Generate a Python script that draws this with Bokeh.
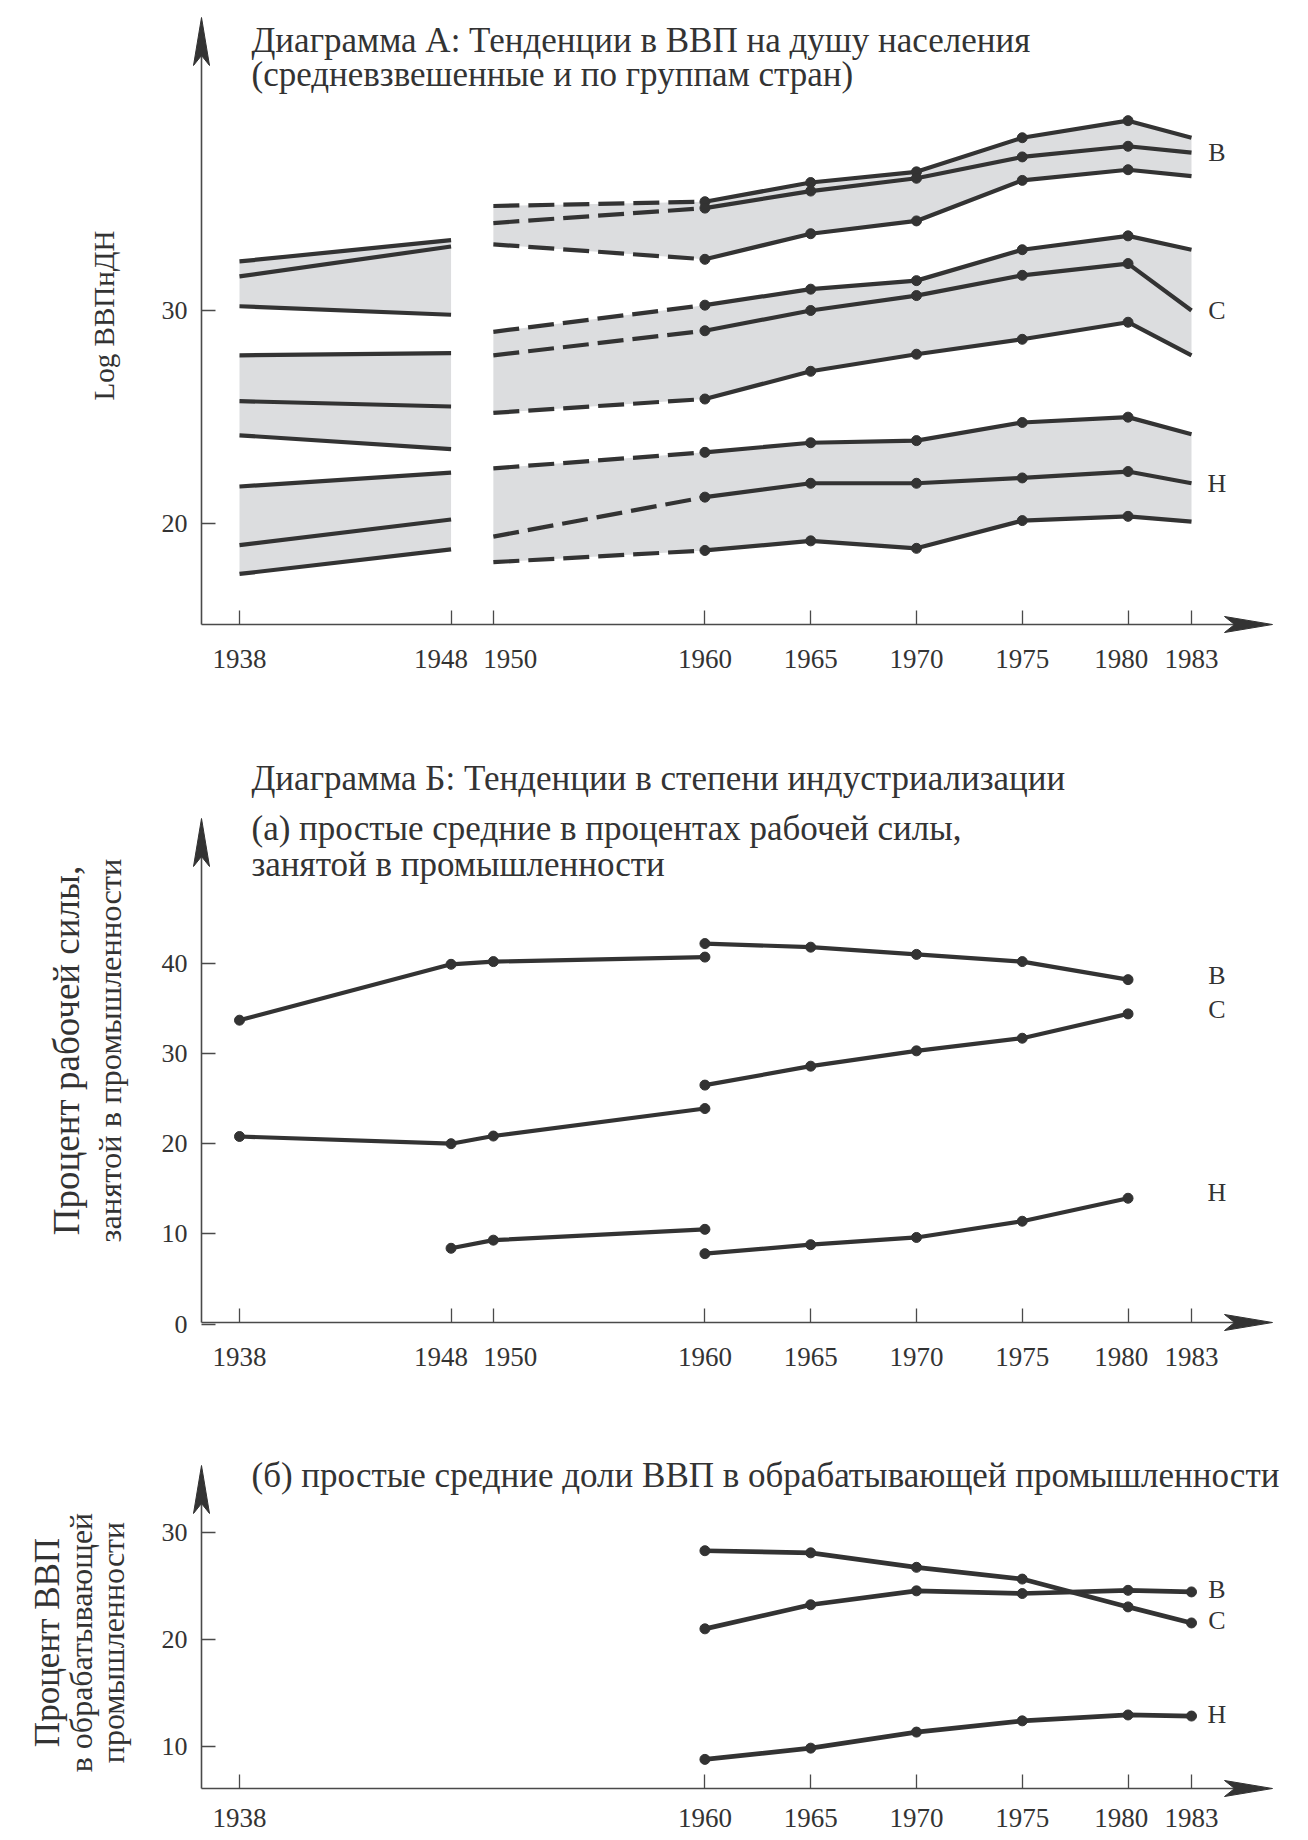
import numpy as np
from bokeh.plotting import figure
from bokeh.models import Range1d, FixedTicker, Label
from bokeh.layouts import column
from bokeh.embed import file_html
from bokeh.resources import INLINE
from bokeh.core.properties import value

# ---------------- data ----------------
# Panel A: log GDP per capita (weighted averages and country groups)
yearsA1 = [1938, 1948]
yearsA2 = [1950, 1960, 1965, 1970, 1975, 1980, 1983]

hiA1_top = [32.3, 33.3]
hiA1_mid = [31.6, 33.0]
hiA1_bot = [30.2, 29.8]
hiA2_top = [34.9, 35.1, 36.0, 36.5, 38.1, 38.9, 38.1]
hiA2_mid = [34.1, 34.8, 35.6, 36.2, 37.2, 37.7, 37.4]
hiA2_bot = [33.1, 32.4, 33.6, 34.2, 36.1, 36.6, 36.3]

midA1_top = [27.9, 28.0]
midA1_mid = [25.75, 25.5]
midA1_bot = [24.15, 23.5]
midA2_top = [29.0, 30.25, 31.0, 31.4, 32.85, 33.5, 32.85]
midA2_mid = [27.9, 29.05, 30.0, 30.7, 31.65, 32.2, 30.0]
midA2_bot = [25.2, 25.85, 27.15, 27.95, 28.65, 29.45, 27.9]

loA1_top = [21.75, 22.4]
loA1_mid = [19.0, 20.2]
loA1_bot = [17.65, 18.8]
loA2_top = [22.6, 23.35, 23.8, 23.9, 24.75, 25.0, 24.2]
loA2_mid = [19.4, 21.25, 21.9, 21.9, 22.15, 22.45, 21.9]
loA2_bot = [18.2, 18.75, 19.2, 18.85, 20.15, 20.35, 20.1]

# Panel B(a): share of labour force in industry
yearsB_hi1 = [1938, 1948, 1950, 1960]
yearsB_lo1 = [1948, 1950, 1960]
yearsB2 = [1960, 1965, 1970, 1975, 1980]
hiB1 = [33.7, 39.9, 40.2, 40.7]
hiB2 = [42.2, 41.8, 41.0, 40.2, 38.2]
midB1 = [20.8, 20.0, 20.85, 23.9]
midB2 = [26.5, 28.6, 30.3, 31.7, 34.4]
loB1 = [8.4, 9.3, 10.5]
loB2 = [7.8, 8.8, 9.6, 11.4, 13.95]

# Panel B(b): share of GDP in manufacturing
yearsC = [1960, 1965, 1970, 1975, 1980, 1983]
hiC = [20.95, 23.2, 24.5, 24.25, 24.55, 24.4]
midC = [28.25, 28.05, 26.7, 25.6, 23.0, 21.5]
loC = [8.75, 9.8, 11.3, 12.35, 12.9, 12.8]

group_labels = ["В", "С", "Н"]
ticks_AB = [1938, 1948, 1950, 1960, 1965, 1970, 1975, 1980, 1983]
ticks_C = [1938, 1960, 1965, 1970, 1975, 1980, 1983]
yticks_A = [20, 30]
yticks_B = [0, 10, 20, 30, 40]
yticks_C = [10, 20, 30]

title_A = ["Диаграмма А: Тенденции в ВВП на душу населения",
           "(средневзвешенные и по группам стран)"]
title_B = ["Диаграмма Б: Тенденции в степени индустриализации",
           "(а) простые средние в процентах рабочей силы,",
           "занятой в промышленности"]
title_C = ["(б) простые средние доли ВВП в обрабатывающей промышленности"]
ylab_A = ["Log ВВПнДН"]
ylab_B = ["Процент рабочей силы,", "занятой в промышленности"]
ylab_C = ["Процент ВВП", "в обрабатывающей", "промышленности"]

# ---------------- style / layout ----------------
FONT = "Liberation Serif"
INK = "#333333"
AXIS = "#4a4a4a"
SHADE = "#dcdddf"
LW = 4.2
MS = 10
PAGE_W = 1308
X1938_PX, X1983_PX = 239, 1191   # page-pixel positions of the 1938 and 1983 ticks
YAXIS_PX = 201
XTIP_PX = 1272
NB = "\u00a0"
# small horizontal nudges of crowded tick labels (as in the original)
label_nudge = {1948: "1948" + NB * 3, 1950: NB * 5 + "1950", 1980: "1980" + NB * 2}


def xv(px):
    return 1938 + (px - X1938_PX) * 45.0 / (X1983_PX - X1938_PX)


def make_panel(top, height, va, pya, vb, pyb, axis_py, tip_py, xticks, yticks, standoff=19):
    def yv(py):
        return va + (py - pya) * (vb - va) / (pyb - pya)

    p = figure(width=PAGE_W, height=height,
               x_range=Range1d(xv(0), xv(PAGE_W)),
               y_range=Range1d(yv(top + height), yv(top)),
               output_backend="svg", toolbar_location=None,
               min_border=0, min_border_left=0, min_border_right=0,
               min_border_top=0, min_border_bottom=0)
    p.outline_line_color = None
    p.grid.visible = False
    p.background_fill_color = "white"
    p.border_fill_color = "white"

    for ax in (p.xaxis, p.yaxis):
        ax.axis_line_color = None
        ax.major_tick_in = 14
        ax.major_tick_out = 0
        ax.minor_tick_line_color = None
        ax.major_tick_line_color = AXIS
        ax.major_tick_line_width = 1.3
        ax.major_label_text_font = FONT
        ax.major_label_text_font_size = "26px"
        ax.major_label_text_color = INK
    p.xaxis.major_label_text_font_size = "27px"
    p.xaxis.fixed_location = yv(axis_py)
    p.yaxis.fixed_location = xv(YAXIS_PX)
    p.xaxis.ticker = FixedTicker(ticks=xticks)
    p.yaxis.ticker = FixedTicker(ticks=yticks)
    p.xaxis.major_label_overrides = {k: v for k, v in label_nudge.items() if k in xticks}
    p.xaxis.major_label_standoff = standoff
    p.yaxis.major_label_standoff = 14

    # axis lines with arrow heads
    p.line([xv(YAXIS_PX), xv(XTIP_PX - 20)], [yv(axis_py)] * 2, line_color=AXIS, line_width=1.6)
    p.line([xv(YAXIS_PX)] * 2, [yv(axis_py), yv(tip_py + 20)], line_color=AXIS, line_width=1.6)
    L, W, N = 48, 8, 10
    hx = [XTIP_PX, XTIP_PX - L, XTIP_PX - L + N, XTIP_PX - L]
    hy = [axis_py, axis_py - W, axis_py, axis_py + W]
    p.patch([xv(a) for a in hx], [yv(b) for b in hy], color=INK)
    vx = [YAXIS_PX, YAXIS_PX - W, YAXIS_PX, YAXIS_PX + W]
    vy = [tip_py, tip_py + L, tip_py + L - N, tip_py + L]
    p.patch([xv(a) for a in vx], [yv(b) for b in vy], color=INK)
    return p, yv


def add_title(p, yv, lines, baselines, size="35px"):
    for txt, b in zip(lines, baselines):
        p.add_layout(Label(x=xv(251), y=yv(b), text=txt, text_font=FONT,
                           text_font_size=size, text_color=INK,
                           text_align="left", text_baseline="alphabetic"))


def add_ylabel(p, yv, lines, xs_px, cy_px, sizes):
    for txt, xp, sz in zip(lines, xs_px, sizes):
        p.add_layout(Label(x=xv(xp), y=yv(cy_px), text=txt, text_font=FONT,
                           text_font_size=sz, text_color=INK, angle=np.pi / 2,
                           text_align="center", text_baseline="middle"))


def add_group_labels(p, ys):
    p.text(x=[1983 + 1.2] * 3, y=ys, text=group_labels, text_font=value(FONT),
           text_font_size="26px", text_color=INK, text_align="center",
           text_baseline="middle")


# ---------------- Panel A ----------------
pA, yA = make_panel(0, 700, 30, 310, 20, 523.3, 624, 17, ticks_AB, yticks_A)

groupsA = [
    (hiA1_top, hiA1_mid, hiA1_bot, hiA2_top, hiA2_mid, hiA2_bot),
    (midA1_top, midA1_mid, midA1_bot, midA2_top, midA2_mid, midA2_bot),
    (loA1_top, loA1_mid, loA1_bot, loA2_top, loA2_mid, loA2_bot),
]
for t1, m1, b1, t2, m2, b2 in groupsA:
    pA.varea(x=yearsA1, y1=b1, y2=t1, fill_color=SHADE)
    pA.varea(x=yearsA2, y1=b2, y2=t2, fill_color=SHADE)
for t1, m1, b1, t2, m2, b2 in groupsA:
    for s in (t1, m1, b1):
        pA.line(yearsA1, s, line_color=INK, line_width=LW)
    for s in (t2, m2, b2):
        pA.line(yearsA2[:2], s[:2], line_color=INK, line_width=LW, line_dash="26 9")
        pA.line(yearsA2[1:], s[1:], line_color=INK, line_width=LW)
        pA.scatter(yearsA2[1:-1], s[1:-1], size=MS, color=INK)
add_group_labels(pA, [hiA2_mid[-1], midA2_mid[-1], loA2_mid[-1]])
add_title(pA, yA, title_A, [40, 74])
add_ylabel(pA, yA, ylab_A, [103], 315, ["29px"])

# ---------------- Panel B(a) ----------------
pB, yB = make_panel(700, 700, 0, 1323.5, 40, 962.9, 1322, 818, ticks_AB, yticks_B)
for xs, ys in [(yearsB_hi1, hiB1), (yearsB2, hiB2), (yearsB_hi1, midB1),
               (yearsB2, midB2), (yearsB_lo1, loB1), (yearsB2, loB2)]:
    pB.line(xs, ys, line_color=INK, line_width=LW)
    pB.scatter(xs, ys, size=MS, color=INK)
add_group_labels(pB, [hiB2[-1] + 0.5, midB2[-1] + 0.5, loB2[-1] + 0.6])
add_title(pB, yB, title_B, [778, 828, 864])
add_ylabel(pB, yB, ylab_B, [66, 109], 1050, ["37px", "32.5px"])

# ---------------- Panel B(b) ----------------
pC, yC = make_panel(1400, 438, 30, 1531.5, 10, 1745.5, 1788, 1465, ticks_C, yticks_C, standoff=14)
for ys in (hiC, midC, loC):
    pC.line(yearsC, ys, line_color=INK, line_width=LW + 0.5)
    pC.scatter(yearsC, ys, size=MS, color=INK)
add_group_labels(pC, [hiC[-1] + 0.2, midC[-1] + 0.2, loC[-1] + 0.1])
add_title(pC, yC, title_C, [1475])
add_ylabel(pC, yC, ylab_C, [47, 80, 112], 1642, ["35px", "32px", "32px"])

layout = column(pA, pB, pC)
open("out.html", "w").write(file_html(layout, INLINE))
